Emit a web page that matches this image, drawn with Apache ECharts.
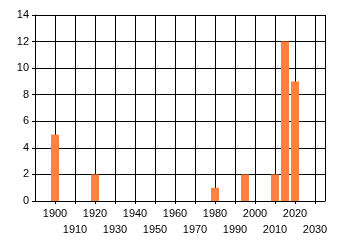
<!DOCTYPE html>
<html><head><meta charset="utf-8">
<script src="https://cdn.jsdelivr.net/npm/echarts@6/dist/echarts.min.js"></script>
<style>html,body{margin:0;padding:0;background:#fff}#c{width:340px;height:245px}</style>
</head><body><div id="c"></div>
<script>
const years = [1900, 1920, 1980, 1995, 2010, 2015, 2020];
const counts = [5, 2, 1, 2, 2, 12, 9];
const yTicks = [0, 2, 4, 6, 8, 10, 12, 14];

const chart = echarts.init(document.getElementById('c'), null, {renderer: 'canvas'});
const fontFamily = 'Liberation Sans, Arial, sans-serif';
chart.setOption({
  animation: false,
  grid: {left: 35, top: 15, right: 15, bottom: 44, containLabel: false},
  xAxis: {
    type: 'value', min: 1890, max: 2035, interval: 10,
    axisLine: {show: true, lineStyle: {color: '#000', width: 1}},
    axisTick: {show: true, length: 3, lineStyle: {color: '#000'}},
    splitLine: {show: true, lineStyle: {color: '#000', width: 1}},
    axisLabel: {
      color: '#000', fontSize: 11, fontFamily, margin: 5, lineHeight: 16,
      showMaxLabel: false, showMinLabel: false,
      formatter: v => {
        if (v <= 1890 || v % 10 !== 0 || v > 2030) return '';
        return ((v / 10) % 2 === 0) ? String(v) : '\n' + v;
      }
    }
  },
  yAxis: {
    type: 'value', min: yTicks[0], max: yTicks[yTicks.length - 1], interval: 2,
    axisLine: {show: true, lineStyle: {color: '#000', width: 1}},
    axisTick: {show: true, length: 3, lineStyle: {color: '#000'}},
    splitLine: {show: true, lineStyle: {color: '#000', width: 1}},
    axisLabel: {color: '#000', fontSize: 11, fontFamily, margin: 6}
  },
  series: [{
    type: 'bar', barWidth: 8,
    itemStyle: {color: '#ff8040'},
    data: years.map((y, i) => [y, counts[i]])
  }]
});
</script></body></html>
